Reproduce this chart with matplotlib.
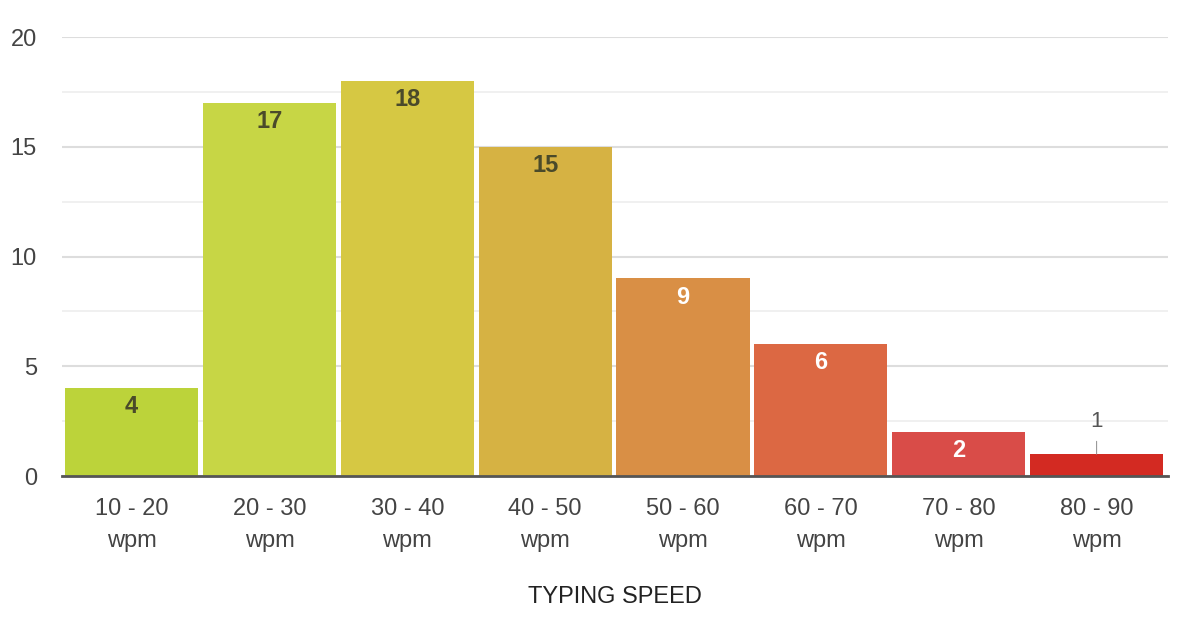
import matplotlib.pyplot as plt
from matplotlib.ticker import MultipleLocator

plt.rcParams['font.family'] = ['Liberation Sans', 'DejaVu Sans']

ranges = ['10 - 20', '20 - 30', '30 - 40', '40 - 50', '50 - 60', '60 - 70', '70 - 80', '80 - 90']
counts = [4, 17, 18, 15, 9, 6, 2, 1]
bar_colors = ['#bcd33a', '#c7d645', '#d6c843', '#d6b243', '#d98f45',
              '#dc6843', '#d94c48', '#d32a22']
label_colors = ['#4a4a2a', '#4a4a2a', '#4a4a2a', '#4a4a2a', 'white', 'white', 'white', '#555555']

fig = plt.figure(figsize=(11.96, 6.28), dpi=100)
ax = fig.add_axes([0.0518, 0.242, 0.925, 0.699])

x = list(range(len(ranges)))
bars = ax.bar(x, counts, width=0.965, color=bar_colors, zorder=3)

for i, (b, v) in enumerate(zip(bars, counts)):
    cx = b.get_x() + b.get_width() / 2
    if v >= 2:
        ax.text(cx, v - 0.85, str(v), ha='center', va='center', fontsize=17,
                color=label_colors[i], fontweight='bold', zorder=4)
    else:
        ax.annotate(str(v), xy=(cx, v), xytext=(cx, v + 1.5), ha='center', va='center',
                    fontsize=16, color='#555555', zorder=4,
                    arrowprops=dict(arrowstyle='-', color='#999999', lw=0.8, shrinkA=5, shrinkB=0))

ax.set_xlim(-0.505, 7.52)
ax.set_ylim(0, 20)
ax.yaxis.set_major_locator(MultipleLocator(5))
ax.yaxis.set_minor_locator(MultipleLocator(2.5))
ax.grid(axis='y', which='major', color='#dddddd', lw=1.5, zorder=0)
ax.grid(axis='y', which='minor', color='#eeeeee', lw=1.2, zorder=0)

ax.set_xticks(x)
ax.set_xticklabels([r + '\nwpm' for r in ranges], fontsize=17, color='#444444', linespacing=1.6)
ax.tick_params(axis='x', length=0, pad=16)
ax.tick_params(axis='y', which='both', length=0, pad=18, labelsize=17, labelcolor='#444444')

for s in ['top', 'right', 'left']:
    ax.spines[s].set_visible(False)
ax.spines['bottom'].set_color('#555555')
ax.spines['bottom'].set_linewidth(2)
ax.spines['bottom'].set_zorder(5)

ax.set_xlabel('TYPING SPEED', fontsize=17, color='#222222', labelpad=24)

plt.savefig('out.png', dpi=100)
